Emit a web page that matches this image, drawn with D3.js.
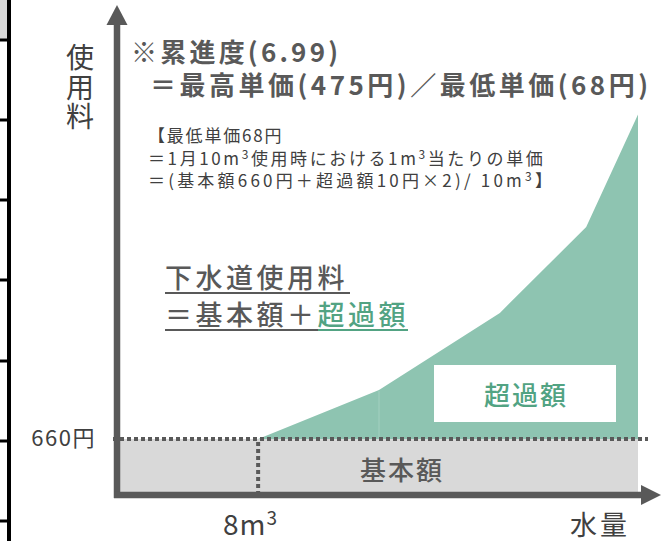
<!DOCTYPE html>
<html>
<head>
<meta charset="utf-8">
<script src="https://cdn.jsdelivr.net/npm/d3@7"></script>
<style>
  body { margin: 0; background: #fff; }
  text { font-family: "Noto Sans CJK JP", "Noto Sans", sans-serif; }
</style>
</head>
<body>
<div id="chart"></div>
<script>
// schematic tiers: water volume (m3) and monthly fee (yen)
var volumes = [8, 15, 22, 27, 30];
var fees = [660, 1270, 2230, 3300, 4700];
var baseFee = 660;
var baseVolume = 8;
var maxVolume = 30;
// stray table ruling on the far left
var edgeTicks = [40, 120, 200, 280, 361, 441, 521];
var noteLines = [
  ["【最低単価68円"],
  ["＝1月10m", "3", "使用時における1m", "3", "当たりの単価"],
  ["＝(基本額660円＋超過額10円×2)/ 10m", "3", "】"]
];
var noteSpacing = [1.8, 2.6, 3.2];

var W = 670, H = 541;
var grey = "#595959", green = "#52a383", areaFill = "#8ec4b1";

var svg = d3.select("#chart").append("svg")
  .attr("width", W).attr("height", H);

// left edge remnants
svg.append("rect").attr("x", 0).attr("y", 0).attr("width", 8).attr("height", 39).attr("fill", "#d9d9d9");
svg.append("line").attr("x1", 9).attr("x2", 9).attr("y1", 0).attr("y2", H)
  .attr("stroke", "#000").attr("stroke-width", 4);
svg.selectAll(".etick").data(edgeTicks).enter().append("line")
  .attr("x1", 0).attr("x2", 9)
  .attr("y1", function(d) { return d; }).attr("y2", function(d) { return d; })
  .attr("stroke", "#000").attr("stroke-width", 3);

var x = d3.scaleLinear().domain([0, maxVolume]).range([120, 638]);
var y = d3.scaleLinear().domain([0, baseFee]).range([492, 439]);

// base amount block
svg.append("rect")
  .attr("x", x(0)).attr("y", y(baseFee))
  .attr("width", x(maxVolume) - x(0)).attr("height", y(0) - y(baseFee))
  .attr("fill", "#d9d9d9");

// excess amount area
var pts = volumes.map(function(v, i) { return {v: v, f: fees[i]}; });
svg.append("path")
  .datum(pts)
  .attr("fill", areaFill)
  .attr("d", d3.area()
    .x(function(d) { return x(d.v); })
    .y0(y(baseFee))
    .y1(function(d) { return y(d.f); }));

// faint seam inside the area
svg.append("line")
  .attr("x1", x(volumes[1])).attr("x2", x(volumes[1]))
  .attr("y1", y(fees[1]) + 1).attr("y2", y(baseFee))
  .attr("stroke", "#a3d0c0").attr("stroke-width", 1);

// dotted guides
svg.append("line")
  .attr("x1", 113).attr("x2", 648)
  .attr("y1", y(baseFee)).attr("y2", y(baseFee))
  .attr("stroke", grey).attr("stroke-width", 4).attr("stroke-dasharray", "4,3");
svg.append("line")
  .attr("x1", x(baseVolume)).attr("x2", x(baseVolume))
  .attr("y1", y(baseFee) + 3).attr("y2", y(0))
  .attr("stroke", grey).attr("stroke-width", 4).attr("stroke-dasharray", "4,3");

// axes with arrows
svg.append("line").attr("x1", 117).attr("x2", 117).attr("y1", 20).attr("y2", 498)
  .attr("stroke", grey).attr("stroke-width", 6.5);
svg.append("path").attr("d", "M117,5 L106.5,25 L127.5,25 Z").attr("fill", grey);
svg.append("line").attr("x1", 114).attr("x2", 645).attr("y1", 495).attr("y2", 495)
  .attr("stroke", grey).attr("stroke-width", 6.5);
svg.append("path").attr("d", "M661,495 L641,485 L641,505 Z").attr("fill", grey);

// label box for excess
svg.append("rect").attr("x", 434).attr("y", 365).attr("width", 182).attr("height", 57).attr("fill", "#fff");
svg.append("text").attr("x", 526).attr("y", 405).attr("text-anchor", "middle")
  .attr("font-size", 26).attr("font-weight", 500).attr("letter-spacing", 2)
  .attr("fill", green).text("超過額");

svg.append("text").attr("x", 402).attr("y", 480).attr("text-anchor", "middle")
  .attr("font-size", 26).attr("font-weight", 500).attr("letter-spacing", 2)
  .attr("fill", grey).text("基本額");

// axis labels
svg.append("text").attr("x", 96).attr("y", 446).attr("text-anchor", "end")
  .attr("font-size", 22).attr("letter-spacing", 1.5).attr("fill", "#404040").text("660円");

var xl = svg.append("text").attr("x", 223).attr("y", 535)
  .attr("font-size", 28).attr("fill", "#404040");
xl.append("tspan").attr("letter-spacing", 1).text("8m");
xl.append("tspan").attr("font-size", 19).attr("dy", -10).text("3");

svg.append("text").attr("x", 570).attr("y", 535)
  .attr("font-size", 27).attr("letter-spacing", 3).attr("fill", "#404040").text("水量");

["使", "用", "料"].forEach(function(c, i) {
  svg.append("text").attr("x", 80).attr("y", 68 + i * 29.5).attr("text-anchor", "middle")
    .attr("font-size", 28).attr("fill", "#404040").text(c);
});

// title
svg.append("text").attr("x", 131).attr("y", 62)
  .attr("font-size", 26).attr("font-weight", 700)
  .attr("textLength", 207).attr("lengthAdjust", "spacing")
  .attr("fill", grey).text("※累進度(6.99)");
svg.append("text").attr("x", 150).attr("y", 95)
  .attr("font-size", 26).attr("font-weight", 700)
  .attr("textLength", 498).attr("lengthAdjust", "spacing")
  .attr("fill", grey).text("＝最高単価(475円)／最低単価(68円)");

// note
noteLines.forEach(function(parts, i) {
  var t = svg.append("text").attr("x", 148).attr("y", 142 + i * 22.5)
    .attr("font-size", 17).attr("letter-spacing", noteSpacing[i]).attr("fill", "#404040");
  parts.forEach(function(p, j) {
    if (p === "3") {
      t.append("tspan").attr("font-size", 12).attr("dy", -6).text(p);
    } else {
      t.append("tspan").attr("dy", j > 0 && parts[j - 1] === "3" ? 6 : 0).text(p);
    }
  });
});

// formula with underline
svg.append("text").attr("x", 165).attr("y", 288)
  .attr("font-size", 27).attr("font-weight", 500).attr("letter-spacing", 3.5)
  .attr("fill", grey).text("下水道使用料");
var f2 = svg.append("text").attr("x", 165).attr("y", 325)
  .attr("font-size", 27).attr("font-weight", 500).attr("letter-spacing", 3.5)
  .attr("fill", grey);
f2.append("tspan").text("＝基本額＋");
f2.append("tspan").attr("fill", green).text("超過額");

svg.append("line").attr("x1", 165).attr("x2", 350).attr("y1", 293).attr("y2", 293)
  .attr("stroke", grey).attr("stroke-width", 2);
svg.append("line").attr("x1", 165).attr("x2", 318).attr("y1", 330).attr("y2", 330)
  .attr("stroke", grey).attr("stroke-width", 2);
svg.append("line").attr("x1", 318).attr("x2", 408).attr("y1", 330).attr("y2", 330)
  .attr("stroke", green).attr("stroke-width", 2);
</script>
</body>
</html>
